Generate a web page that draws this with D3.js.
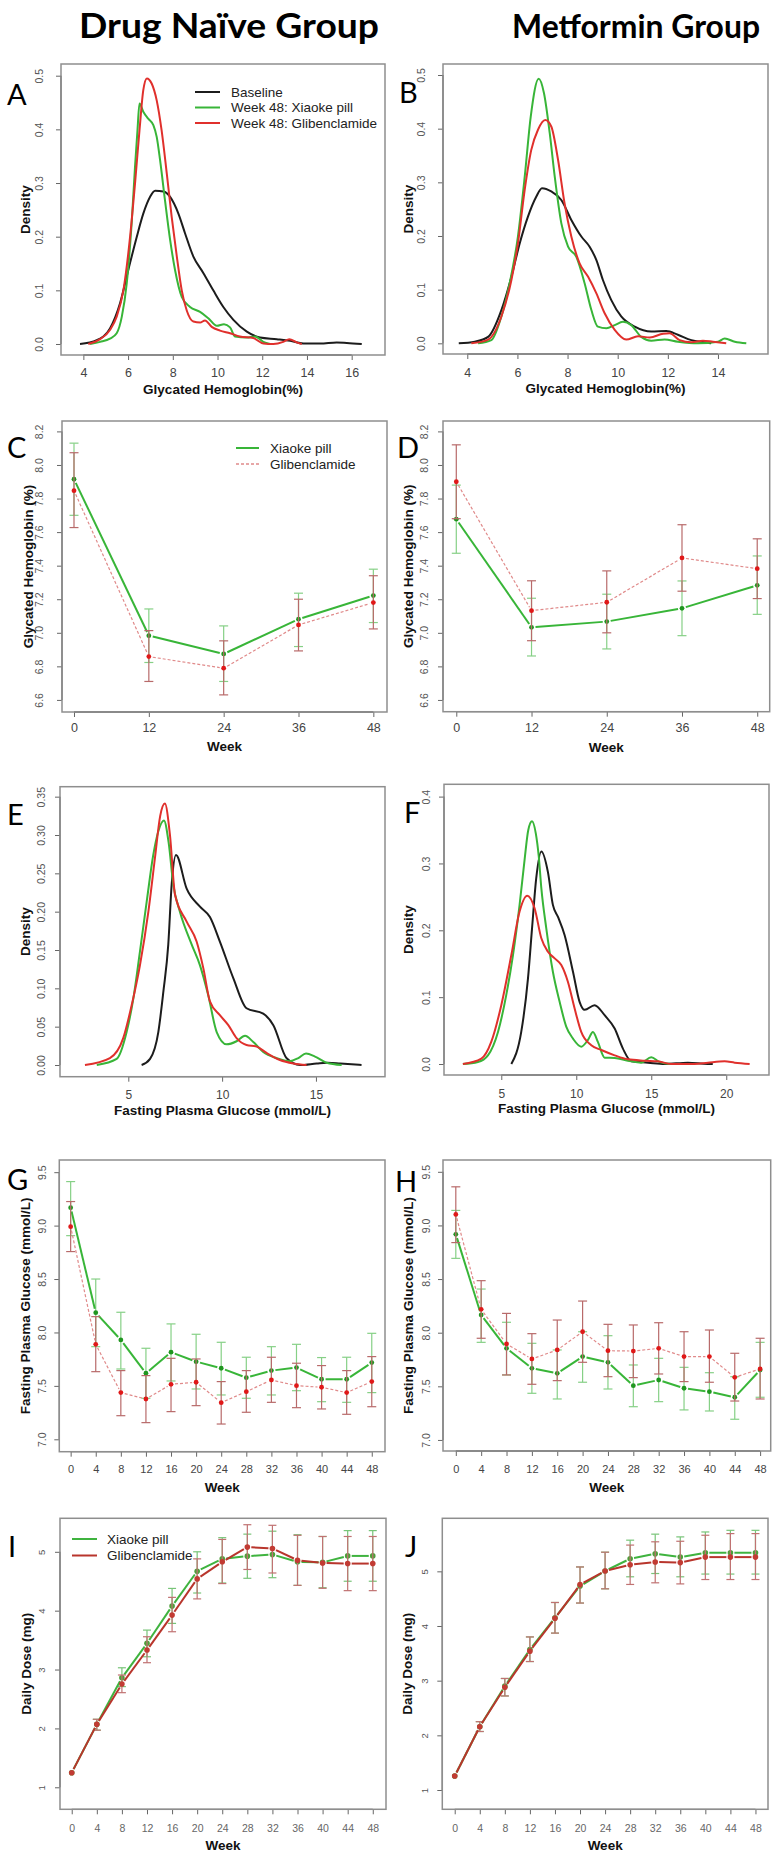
<!DOCTYPE html>
<html><head><meta charset="utf-8">
<script src="https://cdn.jsdelivr.net/npm/d3@7"></script>
<style>body{margin:0;background:#fff}</style>
</head><body>
<svg id="chart" width="777" height="1857" xmlns="http://www.w3.org/2000/svg"></svg>
<script>
// ---------------- DATA ----------------
const groupTitles = ["Drug Naïve Group", "Metformin Group"];
const densLegend = ["Baseline", "Week 48: Xiaoke pill", "Week 48: Glibenclamide"];
const seriesNames = ["Xiaoke pill", "Glibenclamide"];

// Density curves [value, density]
const densA_base = [[3.85,0],[4.6,0.007],[5.19,0.029],[5.64,0.076],[6.01,0.138],[6.39,0.2],[6.68,0.243],[6.98,0.274],[7.21,0.2855],[7.58,0.284],[7.88,0.274],[8.25,0.243],[8.55,0.206],[8.92,0.163],[9.37,0.132],[9.81,0.1],[10.26,0.069],[10.71,0.045],[11.31,0.023],[11.9,0.012],[12.65,0.009],[13.25,0.006],[13.84,0.001],[14.59,0.001],[15.33,0.003],[15.78,0.002],[16.45,0]];
const densA_xiaoke = [[4.3,0],[4.75,0.004],[5.19,0.01],[5.49,0.02],[5.72,0.051],[5.94,0.113],[6.16,0.225],[6.31,0.33],[6.42,0.398],[6.51,0.448],[6.68,0.433],[6.9,0.42],[7.13,0.408],[7.28,0.386],[7.43,0.343],[7.65,0.268],[7.88,0.194],[8.1,0.138],[8.4,0.088],[8.77,0.069],[9.22,0.06],[9.59,0.048],[9.97,0.034],[10.29,0.037],[10.56,0.031],[10.78,0.014],[11.31,0.012],[11.68,0.014],[12.05,0.004],[12.35,0]];
const densA_glib = [[4.22,0],[4.75,0.009],[5.19,0.026],[5.49,0.051],[5.79,0.1],[6.09,0.2],[6.31,0.299],[6.51,0.398],[6.68,0.473],[6.84,0.495],[7.06,0.485],[7.28,0.454],[7.5,0.398],[7.73,0.318],[7.95,0.237],[8.18,0.163],[8.4,0.1],[8.62,0.063],[8.92,0.042],[9.22,0.04],[9.44,0.044],[9.74,0.032],[10.11,0.025],[10.56,0.02],[11.0,0.014],[11.6,0.011],[12.05,0.001],[12.5,0],[12.94,0.004],[13.21,0.009],[13.54,0.003],[13.77,0]];

const densB_base = [[3.66,0],[4.3,0.003],[4.83,0.012],[5.36,0.062],[5.76,0.124],[6.09,0.186],[6.42,0.236],[6.75,0.273],[6.98,0.289],[7.35,0.283],[7.75,0.267],[8.15,0.23],[8.55,0.199],[8.88,0.18],[9.15,0.155],[9.41,0.118],[9.74,0.081],[10.14,0.05],[10.68,0.031],[11.34,0.022],[11.94,0.023],[12.4,0.016],[12.94,0.006],[13.47,0.002],[13.73,0]];
const densB_xiaoke = [[4.43,0],[4.96,0.006],[5.36,0.05],[5.69,0.112],[6.02,0.199],[6.29,0.31],[6.53,0.422],[6.85,0.493],[7.06,0.466],[7.29,0.391],[7.49,0.31],[7.75,0.224],[8.02,0.18],[8.35,0.161],[8.68,0.112],[8.95,0.062],[9.21,0.031],[9.55,0.028],[9.88,0.034],[10.21,0.04],[10.54,0.034],[10.94,0.012],[11.34,0.005],[11.87,0.007],[12.4,0.003],[13.2,0],[14.0,0.003],[14.27,0.009],[14.67,0.003],[15.13,0]];
const densB_glib = [[4.16,0],[4.83,0.007],[5.36,0.05],[5.76,0.118],[6.02,0.186],[6.29,0.286],[6.55,0.36],[6.82,0.398],[7.11,0.416],[7.35,0.404],[7.62,0.342],[7.88,0.261],[8.15,0.199],[8.48,0.149],[8.82,0.124],[9.15,0.093],[9.48,0.056],[9.88,0.025],[10.34,0.007],[10.81,0.013],[11.28,0.011],[11.81,0.018],[12.07,0.019],[12.47,0.006],[12.94,0.002],[13.4,0.005],[13.8,0.003],[14.33,0]];

const densE_base = [[5.71,0],[6.16,0.008],[6.6,0.043],[6.87,0.096],[7.13,0.157],[7.31,0.235],[7.54,0.274],[8.11,0.23],[8.82,0.2065],[9.35,0.193],[9.88,0.161],[10.6,0.113],[11.3,0.074],[12.19,0.067],[12.73,0.052],[13.44,0.0087],[14.15,0],[15.04,0.002],[15.6,0.003],[16.3,0.002],[17.43,0]];
const densE_xiaoke = [[3.32,0],[4.38,0.008],[4.91,0.043],[5.27,0.087],[5.62,0.148],[5.98,0.213],[6.33,0.274],[6.6,0.305],[6.9,0.319],[7.15,0.29],[7.4,0.235],[7.75,0.2],[8.38,0.157],[8.82,0.13],[9.26,0.091],[9.71,0.043],[10.24,0.027],[10.77,0.031],[11.22,0.038],[11.66,0.03],[12.19,0.017],[12.9,0.009],[13.6,0.005],[14.06,0.009],[14.47,0.015],[14.95,0.011],[15.57,0.003],[16.37,0]];
const densE_glib = [[2.69,0],[4.02,0.009],[4.73,0.035],[5.18,0.078],[5.62,0.13],[6.07,0.2],[6.42,0.27],[6.7,0.325],[6.95,0.341],[7.22,0.3],[7.49,0.222],[8.11,0.187],[8.64,0.161],[9.0,0.126],[9.35,0.083],[9.88,0.065],[10.33,0.052],[10.77,0.035],[11.3,0.026],[11.84,0.024],[12.37,0.0157],[13.08,0.0065],[13.8,0.002],[14.5,0]];

const densF_base = [[5.67,0],[6.33,0.048],[6.78,0.128],[7.05,0.203],[7.33,0.278],[7.67,0.318],[8.11,0.287],[8.44,0.238],[8.78,0.22],[9.22,0.193],[9.78,0.138],[10.22,0.093],[10.56,0.081],[11.22,0.088],[11.89,0.073],[12.56,0.053],[13.11,0.023],[13.67,0.004],[14.78,0.002],[15.89,0],[17.44,0.002],[18.78,0],[19.1,0]];
const densF_xiaoke = [[2.44,0],[3.44,0.003],[4.11,0.013],[4.78,0.048],[5.33,0.103],[5.78,0.163],[6.22,0.238],[6.56,0.307],[6.8,0.35],[7.05,0.363],[7.3,0.345],[7.5,0.31],[7.67,0.263],[8.0,0.203],[8.44,0.138],[8.89,0.093],[9.33,0.056],[9.78,0.038],[10.33,0.026],[10.78,0.036],[11.11,0.048],[11.44,0.033],[11.89,0.0095],[12.56,0.009],[13.44,0.005],[14.33,0.002],[15.0,0.01],[15.56,0.003],[16.33,0],[17.0,0]];
const densF_glib = [[2.44,0],[3.67,0.008],[4.33,0.033],[5.0,0.088],[5.67,0.163],[6.22,0.228],[6.73,0.2516],[7.22,0.233],[7.67,0.188],[8.11,0.168],[8.56,0.158],[9.0,0.148],[9.44,0.123],[9.89,0.083],[10.33,0.048],[11.0,0.028],[11.67,0.021],[12.56,0.013],[13.44,0.007],[14.56,0.005],[15.44,0.004],[16.33,0],[17.89,0],[18.78,0.002],[19.89,0.004],[20.56,0.002],[21.56,0]];

// HbA1c over weeks (mean, lower, upper)
const weeks12 = [0, 12, 24, 36, 48];
const C_xiaoke = [7.915, 6.983, 6.874, 7.081, 7.222];
const C_xiaoke_lo = [7.70, 6.823, 6.71, 6.918, 7.061];
const C_xiaoke_hi = [8.13, 7.142, 7.041, 7.236, 7.379];
const C_glib = [7.847, 6.858, 6.789, 7.047, 7.18];
const C_glib_lo = [7.627, 6.71, 6.63, 6.892, 7.023];
const C_glib_hi = [8.073, 7.013, 6.952, 7.2, 7.34];

const D_xiaoke = [7.677, 7.033, 7.067, 7.146, 7.283];
const D_xiaoke_lo = [7.474, 6.862, 6.904, 6.983, 7.11];
const D_xiaoke_hi = [7.88, 7.206, 7.23, 7.309, 7.458];
const D_glib = [7.90, 7.132, 7.182, 7.446, 7.382];
const D_glib_lo = [7.68, 6.953, 7.0, 7.248, 7.204];
const D_glib_hi = [8.12, 7.31, 7.369, 7.644, 7.56];

// FPG over weeks
const weeks4 = [0, 4, 8, 12, 16, 20, 24, 28, 32, 36, 40, 44, 48];
const G_xiaoke = [9.168, 8.185, 7.93, 7.618, 7.815, 7.727, 7.665, 7.577, 7.643, 7.671, 7.562, 7.562, 7.718];
const G_xiaoke_lo = [8.906, 7.867, 7.658, 7.384, 7.546, 7.471, 7.415, 7.384, 7.415, 7.455, 7.352, 7.346, 7.437];
const G_xiaoke_hi = [9.412, 8.5, 8.189, 7.852, 8.08, 7.983, 7.908, 7.768, 7.867, 7.889, 7.765, 7.768, 7.992];
const G_glib = [8.99, 7.889, 7.437, 7.377, 7.515, 7.534, 7.343, 7.446, 7.555, 7.502, 7.487, 7.437, 7.54];
const G_glib_lo = [8.757, 7.633, 7.221, 7.156, 7.259, 7.315, 7.143, 7.253, 7.346, 7.296, 7.284, 7.234, 7.305];
const G_glib_hi = [9.225, 8.148, 7.643, 7.596, 7.758, 7.752, 7.54, 7.643, 7.768, 7.712, 7.69, 7.643, 7.774];

const H_xiaoke = [8.917, 8.165, 7.854, 7.668, 7.621, 7.777, 7.724, 7.506, 7.559, 7.482, 7.45, 7.398, 7.652];
const H_xiaoke_lo = [8.693, 7.91, 7.606, 7.435, 7.382, 7.538, 7.475, 7.31, 7.357, 7.28, 7.27, 7.193, 7.398];
const H_xiaoke_hi = [9.14, 8.407, 8.097, 7.901, 7.839, 8.009, 7.972, 7.699, 7.761, 7.677, 7.627, 7.59, 7.91];
const H_glib = [9.103, 8.218, 7.895, 7.755, 7.839, 8.009, 7.832, 7.829, 7.854, 7.777, 7.777, 7.584, 7.662];
const H_glib_lo = [8.84, 7.948, 7.606, 7.519, 7.553, 7.724, 7.59, 7.581, 7.615, 7.544, 7.538, 7.363, 7.382];
const H_glib_hi = [9.36, 8.485, 8.18, 7.991, 8.118, 8.295, 8.078, 8.072, 8.093, 8.009, 8.025, 7.808, 7.948];

// Daily dose over weeks
const I_xiaoke = [1.248, 2.07, 2.86, 3.445, 4.078, 4.67, 4.88, 4.926, 4.954, 4.83, 4.82, 4.93, 4.93];
const I_xiaoke_lo = [1.248, 1.97, 2.71, 3.217, 3.784, 4.3, 4.47, 4.55, 4.56, 4.43, 4.39, 4.5, 4.5];
const I_xiaoke_hi = [1.248, 2.155, 3.03, 3.67, 4.378, 5.0, 5.24, 5.3, 5.35, 5.29, 5.26, 5.36, 5.36];
const I_glib = [1.248, 2.07, 2.754, 3.331, 3.925, 4.54, 4.83, 5.08, 5.056, 4.857, 4.81, 4.80, 4.80];
const I_glib_lo = [1.248, 1.97, 2.607, 3.116, 3.642, 4.2, 4.46, 4.7, 4.64, 4.43, 4.38, 4.34, 4.34];
const I_glib_hi = [1.248, 2.155, 2.907, 3.557, 4.226, 4.88, 5.21, 5.46, 5.45, 5.28, 5.26, 5.26, 5.26];

const J_xiaoke = [1.256, 2.158, 2.9, 3.57, 4.15, 4.73, 5.006, 5.23, 5.32, 5.26, 5.34, 5.34, 5.34];
const J_xiaoke_lo = [1.256, 2.07, 2.72, 3.35, 3.87, 4.42, 4.68, 4.9, 4.96, 4.9, 4.95, 4.95, 4.95];
const J_xiaoke_hi = [1.256, 2.25, 3.04, 3.80, 4.43, 5.08, 5.35, 5.57, 5.68, 5.63, 5.72, 5.75, 5.75];
const J_glib = [1.256, 2.158, 2.878, 3.54, 4.14, 4.757, 5.006, 5.12, 5.17, 5.16, 5.26, 5.26, 5.26];
const J_glib_lo = [1.256, 2.07, 2.72, 3.35, 3.87, 4.42, 4.68, 4.76, 4.79, 4.77, 4.85, 4.85, 4.85];
const J_glib_hi = [1.256, 2.25, 3.04, 3.80, 4.43, 5.08, 5.35, 5.48, 5.54, 5.55, 5.66, 5.69, 5.69];

// Tick values
const ticksA_x = [4, 6, 8, 10, 12, 14, 16];
const ticksB_x = [4, 6, 8, 10, 12, 14];
const ticksAB_y = [0, 0.1, 0.2, 0.3, 0.4, 0.5];
const ticksCD_x = [0, 12, 24, 36, 48];
const ticksCD_y = [6.6, 6.8, 7.0, 7.2, 7.4, 7.6, 7.8, 8.0, 8.2];
const ticksE_x = [5, 10, 15];
const ticksF_x = [5, 10, 15, 20];
const ticksE_y = [0, 0.05, 0.10, 0.15, 0.20, 0.25, 0.30, 0.35];
const ticksF_y = [0, 0.1, 0.2, 0.3, 0.4];
const ticksWeek4 = [0, 4, 8, 12, 16, 20, 24, 28, 32, 36, 40, 44, 48];
const ticksGH_y = [7.0, 7.5, 8.0, 8.5, 9.0, 9.5];
const ticksIJ_y = [1, 2, 3, 4, 5];

// ---------------- DRAWING ----------------
const svg = d3.select("#chart");
svg.append("rect").attr("width", 777).attr("height", 1857).attr("fill", "#fff");
const FONT = "'Liberation Sans', Arial, sans-serif";
const COL = {
  black: "#1c1c1c", green: "#38b538", red: "#e0302c",
  gPt: "#1f961f", rPt: "#e01818", gBar: "#86d086", rBar: "#b86a6a",
  rDash: "#e08a8a", dRed: "#b8352c", dGreen: "#3fb33f"
};

function panel(p) {
  const x = d3.scaleLinear().domain(p.xd).range([p.l, p.r]);
  const y = d3.scaleLinear().domain(p.yd).range([p.b, p.t]);
  const g = svg.append("g");
  const xa = g.append("g").attr("transform", `translate(0,${p.b})`)
    .call(d3.axisBottom(x).tickValues(p.xt).tickSize(5).tickSizeOuter(0).tickFormat(d3.format("d")));
  xa.select(".domain").remove();
  xa.append("line").attr("x1", x(p.xt[0])).attr("x2", x(p.xt[p.xt.length - 1]))
    .attr("stroke", "#555").attr("stroke-width", 1.3);
  xa.selectAll(".tick line").attr("stroke", "#666");
  xa.selectAll(".tick text").attr("y", p.xty - p.b).attr("dy", "0.35em")
    .attr("font-size", p.xfs).attr("fill", p.xtc || "#444").attr("font-family", FONT);
  const ya = g.append("g").attr("transform", `translate(${p.l},0)`)
    .call(d3.axisLeft(y).tickValues(p.yt).tickSize(5).tickSizeOuter(0).tickFormat(d3.format(p.yf)));
  ya.select(".domain").remove();
  ya.append("line").attr("y1", y(p.yt[0])).attr("y2", y(p.yt[p.yt.length - 1]))
    .attr("stroke", "#555").attr("stroke-width", 1.3);
  ya.selectAll(".tick line").attr("stroke", "#666");
  ya.selectAll(".tick text").attr("transform", "rotate(-90)").attr("x", 0).attr("y", -p.yoff).attr("dy", 0)
    .attr("text-anchor", "middle").attr("font-size", p.yfs).attr("fill", "#555").attr("font-family", FONT);
  g.append("rect").attr("x", p.l).attr("y", p.t).attr("width", p.r - p.l).attr("height", p.b - p.t)
    .attr("fill", "none").attr("stroke", "#8e8e8e").attr("stroke-width", 1.5);
  g.append("text").attr("x", (p.l + p.r) / 2).attr("y", p.xly).attr("dy", "0.35em").attr("text-anchor", "middle")
    .attr("font-family", FONT).attr("font-weight", "bold").attr("font-size", 13.5).attr("fill", "#111").text(p.xlab);
  g.append("text").attr("transform", `translate(${p.ylx},${(p.t + p.b) / 2}) rotate(-90)`).attr("dy", "0.35em")
    .attr("text-anchor", "middle").attr("font-family", FONT).attr("font-weight", "bold").attr("font-size", 13.5)
    .attr("fill", "#111").text(p.ylab);
  g.append("text").attr("x", p.lx).attr("y", p.ly).attr("font-family", "Lato, 'Open Sans', sans-serif")
    .attr("font-size", 29).attr("fill", "#000").text(p.letter);
  return { x, y, g };
}

function density(P, data, color) {
  const line = d3.line().x(d => P.x(d[0])).y(d => P.y(d[1])).curve(d3.curveMonotoneX);
  P.g.append("path").attr("d", line(data)).attr("fill", "none").attr("stroke", color).attr("stroke-width", 2);
}

function series(P, xs, mean, lo, hi, st) {
  const g = P.g.append("g");
  xs.forEach((w, i) => {
    if (hi[i] - lo[i] < 0.001) return;
    const cx = P.x(w), y1 = P.y(lo[i]), y2 = P.y(hi[i]);
    g.append("line").attr("x1", cx).attr("x2", cx).attr("y1", y1).attr("y2", y2).attr("stroke", st.bar).attr("stroke-width", 1.2);
    [y1, y2].forEach(yy => g.append("line").attr("x1", cx - st.cap).attr("x2", cx + st.cap).attr("y1", yy).attr("y2", yy)
      .attr("stroke", st.bar).attr("stroke-width", 1.2));
  });
  const pts = xs.map((w, i) => [P.x(w), P.y(mean[i])]);
  for (let i = 0; i < pts.length - 1; i++) {
    const [ax, ay] = pts[i], [bx, by] = pts[i + 1];
    const dx = bx - ax, dy = by - ay, len = Math.hypot(dx, dy);
    if (len <= 2 * st.gap) continue;
    const ux = dx / len, uy = dy / len;
    g.append("line").attr("x1", ax + ux * st.gap).attr("y1", ay + uy * st.gap)
      .attr("x2", bx - ux * st.gap).attr("y2", by - uy * st.gap)
      .attr("stroke", st.line).attr("stroke-width", st.lw).attr("stroke-dasharray", st.dash || null);
  }
  pts.forEach(p => g.append("circle").attr("cx", p[0]).attr("cy", p[1]).attr("r", st.r).attr("fill", st.pt));
}

// Group titles
svg.append("text").attr("x", 229).attr("y", 38).attr("text-anchor", "middle").attr("font-family", "Lato, 'Open Sans', sans-serif")
  .attr("font-weight", "bold").attr("font-size", 35).attr("fill", "#000")
  .attr("textLength", 300).attr("lengthAdjust", "spacingAndGlyphs").text(groupTitles[0]);
svg.append("text").attr("x", 636).attr("y", 38).attr("text-anchor", "middle").attr("font-family", "Lato, 'Open Sans', sans-serif")
  .attr("font-weight", "bold").attr("font-size", 33).attr("fill", "#000")
  .attr("textLength", 248).attr("lengthAdjust", "spacingAndGlyphs").text(groupTitles[1]);

// ---- A ----
const PA = panel({ l: 61, t: 64, r: 385, b: 355, xd: [3.0, 17.49], yd: [-0.0205, 0.5218], xt: ticksA_x, yt: ticksAB_y, yf: ".1f",
  xty: 373, xfs: 12.5, yfs: 10.5, yoff: 18, xly: 389, ylx: 25, xlab: "Glycated Hemoglobin(%)", ylab: "Density", letter: "A", lx: 7, ly: 105 });
density(PA, densA_base, COL.black); density(PA, densA_xiaoke, COL.green); density(PA, densA_glib, COL.red);
[[COL.black, densLegend[0]], [COL.green, densLegend[1]], [COL.red, densLegend[2]]].forEach((d, i) => {
  const yy = 92 + i * 15.5;
  PA.g.append("line").attr("x1", 195).attr("x2", 220).attr("y1", yy).attr("y2", yy).attr("stroke", d[0]).attr("stroke-width", 2);
  PA.g.append("text").attr("x", 231).attr("y", yy).attr("dy", "0.35em").attr("font-family", FONT).attr("font-size", 13.5).attr("fill", "#222").text(d[1]);
});

// ---- B ----
const PB = panel({ l: 443, t: 64, r: 768, b: 354, xd: [3.031, 15.996], yd: [-0.0199, 0.5205], xt: ticksB_x, yt: ticksAB_y, yf: ".1f",
  xty: 373, xfs: 12.5, yfs: 10.5, yoff: 18, xly: 388, ylx: 408, xlab: "Glycated Hemoglobin(%)", ylab: "Density", letter: "B", lx: 399, ly: 103 });
density(PB, densB_base, COL.black); density(PB, densB_xiaoke, COL.green); density(PB, densB_glib, COL.red);

const stGreenSolid = { line: COL.green, lw: 2, pt: COL.gPt, bar: COL.gBar, r: 2.4, cap: 4.5, gap: 4 };
const stRedDash = { line: COL.rDash, lw: 1.2, dash: "3,2", pt: COL.rPt, bar: COL.rBar, r: 2.4, cap: 4.5, gap: 4 };

// ---- C ----
const PC = panel({ l: 62, t: 421, r: 387, b: 712, xd: [-1.924, 50.19], yd: [6.528, 8.262], xt: ticksCD_x, yt: ticksCD_y, yf: ".1f",
  xty: 728, xfs: 12.5, yfs: 10.5, yoff: 19, xly: 746, ylx: 28, xlab: "Week", ylab: "Glycated Hemoglobin (%)", letter: "C", lx: 7, ly: 458 });
series(PC, weeks12, C_xiaoke, C_xiaoke_lo, C_xiaoke_hi, stGreenSolid);
series(PC, weeks12, C_glib, C_glib_lo, C_glib_hi, stRedDash);
PC.g.append("line").attr("x1", 236).attr("x2", 259).attr("y1", 448).attr("y2", 448).attr("stroke", COL.green).attr("stroke-width", 2);
PC.g.append("line").attr("x1", 236).attr("x2", 259).attr("y1", 464).attr("y2", 464).attr("stroke", COL.rDash).attr("stroke-width", 1.5).attr("stroke-dasharray", "3,2");
PC.g.append("text").attr("x", 270).attr("y", 448).attr("dy", "0.35em").attr("font-family", FONT).attr("font-size", 13.5).attr("fill", "#222").text(seriesNames[0]);
PC.g.append("text").attr("x", 270).attr("y", 464).attr("dy", "0.35em").attr("font-family", FONT).attr("font-size", 13.5).attr("fill", "#222").text(seriesNames[1]);

// ---- D ----
const PD = panel({ l: 443, t: 421, r: 769.7, b: 711.7, xd: [-2.12, 49.99], yd: [6.53, 8.262], xt: ticksCD_x, yt: ticksCD_y, yf: ".1f",
  xty: 728, xfs: 12.5, yfs: 10.5, yoff: 15, xly: 747, ylx: 408, xlab: "Week", ylab: "Glycated Hemoglobin (%)", letter: "D", lx: 397, ly: 458 });
series(PD, weeks12, D_xiaoke, D_xiaoke_lo, D_xiaoke_hi, stGreenSolid);
series(PD, weeks12, D_glib, D_glib_lo, D_glib_hi, stRedDash);

// ---- E ----
const PE = panel({ l: 60, t: 786.7, r: 385, b: 1076.7, xd: [1.36, 18.68], yd: [-0.01526, 0.363], xt: ticksE_x, yt: ticksE_y, yf: ".2f",
  xty: 1095, xfs: 12, yfs: 10.5, yoff: 15, xly: 1110, ylx: 25, xlab: "Fasting Plasma Glucose (mmol/L)", ylab: "Density", letter: "E", lx: 7, ly: 825 });
density(PE, densE_base, COL.black); density(PE, densE_xiaoke, COL.green); density(PE, densE_glib, COL.red);

// ---- F ----
const PF = panel({ l: 444, t: 784.3, r: 769, b: 1075, xd: [1.18, 22.85], yd: [-0.01644, 0.4184], xt: ticksF_x, yt: ticksF_y, yf: ".1f",
  xty: 1094, xfs: 12, yfs: 10.5, yoff: 14, xly: 1108, ylx: 408, xlab: "Fasting Plasma Glucose (mmol/L)", ylab: "Density", letter: "F", lx: 404, ly: 823 });
density(PF, densF_base, COL.black); density(PF, densF_xiaoke, COL.green); density(PF, densF_glib, COL.red);

// ---- G ----
const PG = panel({ l: 59.3, t: 1160, r: 385, b: 1451.7, xd: [-1.81, 50.11], yd: [6.884, 9.614], xt: ticksWeek4, yt: ticksGH_y, yf: ".1f",
  xty: 1469, xfs: 11, yfs: 10.5, yoff: 13, xly: 1487, ylx: 25, xlab: "Week", ylab: "Fasting Plasma Glucose (mmol/L)", letter: "G", lx: 7, ly: 1190 });
series(PG, weeks4, G_xiaoke, G_xiaoke_lo, G_xiaoke_hi, stGreenSolid);
series(PG, weeks4, G_glib, G_glib_lo, G_glib_hi, stRedDash);

// ---- H ----
const PH = panel({ l: 443, t: 1160, r: 770.7, b: 1451, xd: [-2.02, 49.67], yd: [6.897, 9.61], xt: ticksWeek4, yt: ticksGH_y, yf: ".1f",
  xty: 1469, xfs: 11, yfs: 10.5, yoff: 13, xly: 1487, ylx: 408, xlab: "Week", ylab: "Fasting Plasma Glucose (mmol/L)", letter: "H", lx: 395, ly: 1192 });
series(PH, weeks4, H_xiaoke, H_xiaoke_lo, H_xiaoke_hi, stGreenSolid);
series(PH, weeks4, H_glib, H_glib_lo, H_glib_hi, stRedDash);

// ---- I ----
const stGreenDose = { line: COL.dGreen, lw: 2, pt: "#4e9e3a", bar: "#78c478", r: 2.8, cap: 4, gap: 4 };
const stRedDose = { line: COL.dRed, lw: 2, pt: "#c23b33", bar: "#c07272", r: 2.8, cap: 4, gap: 4 };
const PI = panel({ l: 60, t: 1518.3, r: 386, b: 1809.3, xd: [-1.87, 50.11], yd: [0.626, 5.569], xt: ticksWeek4, yt: ticksIJ_y, yf: "d",
  xty: 1828, xfs: 10.5, xtc: "#666", yfs: 9.5, yoff: 15, xly: 1845, ylx: 26, xlab: "Week", ylab: "Daily Dose (mg)", letter: "I", lx: 8, ly: 1557 });
series(PI, weeks4, I_xiaoke, I_xiaoke_lo, I_xiaoke_hi, stGreenDose);
series(PI, weeks4, I_glib, I_glib_lo, I_glib_hi, stRedDose);
[[COL.dGreen, seriesNames[0]], [COL.dRed, seriesNames[1]]].forEach((d, i) => {
  const yy = 1539 + i * 16.5;
  PI.g.append("line").attr("x1", 72).attr("x2", 97).attr("y1", yy).attr("y2", yy).attr("stroke", d[0]).attr("stroke-width", 2);
  PI.g.append("text").attr("x", 107).attr("y", yy).attr("dy", "0.35em").attr("font-family", FONT).attr("font-size", 13.5).attr("fill", "#222").text(d[1]);
});

// ---- J ----
const PJ = panel({ l: 442.3, t: 1518.3, r: 768, b: 1809.3, xd: [-1.98, 50.0], yd: [0.647, 5.97], xt: ticksWeek4, yt: ticksIJ_y, yf: "d",
  xty: 1828, xfs: 10.5, xtc: "#666", yfs: 9.5, yoff: 14, xly: 1845, ylx: 407, xlab: "Week", ylab: "Daily Dose (mg)", letter: "J", lx: 405, ly: 1557 });
series(PJ, weeks4, J_xiaoke, J_xiaoke_lo, J_xiaoke_hi, stGreenDose);
series(PJ, weeks4, J_glib, J_glib_lo, J_glib_hi, stRedDose);
</script>
</body></html>
